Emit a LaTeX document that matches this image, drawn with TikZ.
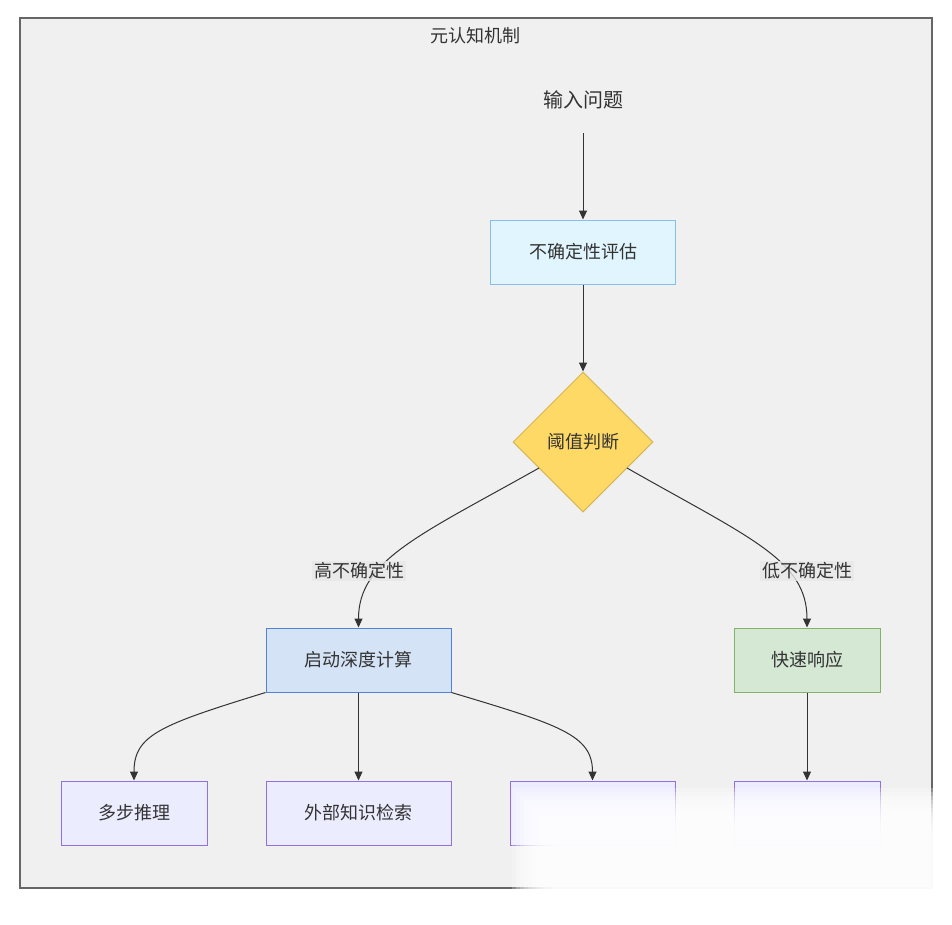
\documentclass[tikz,border=0pt]{standalone}
\usepackage{fontspec}
\setmainfont{Noto Sans CJK SC}
\usetikzlibrary{positioning}
\usetikzlibrary{shapes.geometric}
\usetikzlibrary{arrows.meta}
\definecolor{mframe}{RGB}{240,240,240}
\definecolor{mframeline}{RGB}{102,102,102}
\definecolor{mtext}{RGB}{51,51,51}
\definecolor{mevalfill}{RGB}{225,245,254}
\definecolor{mevalline}{RGB}{135,190,240}
\definecolor{mjudgefill}{RGB}{255,217,102}
\definecolor{mjudgeline}{RGB}{214,182,86}
\definecolor{mdeepfill}{RGB}{212,227,246}
\definecolor{mdeepline}{RGB}{80,130,215}
\definecolor{mfastfill}{RGB}{213,232,212}
\definecolor{mfastline}{RGB}{130,179,102}
\definecolor{mtoolfill}{RGB}{236,236,255}
\definecolor{mtoolline}{RGB}{147,112,219}
\definecolor{mlabel}{RGB}{232,232,232}

\begin{document}
\begin{tikzpicture}[x=1pt, y=-1pt,
    every node/.style={font=\fontsize{18}{20}\selectfont, text=mtext},
    module/.style={draw, line width=1pt, minimum height=64pt, inner sep=0pt},
    evalbox/.style={module, fill=mevalfill, draw=mevalline, minimum width=185pt},
    judgebox/.style={diamond, aspect=1, draw=mjudgeline, line width=1pt, fill=mjudgefill, minimum width=140pt, minimum height=140pt, inner sep=0pt},
    deepbox/.style={module, fill=mdeepfill, draw=mdeepline, minimum width=185pt},
    fastbox/.style={module, fill=mfastfill, draw=mfastline, minimum width=146pt},
    toolbox/.style={module, fill=mtoolfill, draw=mtoolline},
    edgelabel/.style={fill=mlabel, fill opacity=0.8, text opacity=1, inner sep=2pt},
    arrow/.style={-{Triangle[length=9pt, width=8pt]}, line width=1pt, draw=mtext},
]
\useasboundingbox (0,0) rectangle (952,924);
% outer frame
\draw[fill=mframe, draw=mframeline, line width=1.6pt] (20,18) rectangle (932,888);
\node (title) at (475,36) {元认知机制};

\node[minimum height=66pt, font=\fontsize{20}{22}\selectfont] (input) at (583,100) {输入问题};
\node[below of=input, evalbox, node distance=152pt] (eval) {不确定性评估};
\node[below of=eval, judgebox, node distance=190pt] (judge) {阈值判断};
\node[below of=judge, deepbox, node distance=218pt, xshift=-224.5pt] (deep) {启动深度计算};
\node[below of=judge, fastbox, node distance=218pt, xshift=224pt] (fast) {快速响应};
\node[below of=deep, toolbox, node distance=153pt, xshift=-224.5pt, minimum width=146pt] (multistep) {多步推理};
\node[below of=deep, toolbox, node distance=153pt, minimum width=185pt] (retrieve) {外部知识检索};
\node[below of=deep, toolbox, node distance=153pt, xshift=234pt, minimum width=165pt] (third) {};
\node[below of=fast, toolbox, node distance=153pt, minimum width=146pt] (fourth) {};

\coordinate (judge_left) at (539,468);
\coordinate (judge_right) at (627,468);
\draw[arrow] (judge_left) .. controls (420,535) and (deep.north |- 0,560) .. (deep.north);
\draw[arrow] (judge_right) .. controls (750,538) and (fast.north |- 0,560) .. (fast.north);
\node[edgelabel] (high) at (359,571) {高不确定性};
\node[edgelabel] (low) at (807,571) {低不确定性};

\draw[arrow] (input) -- (eval);
\draw[arrow] (eval) -- (judge);
\draw[arrow] (deep.south west) .. controls (160,725) and (multistep.north |- 0,735) .. (multistep.north);
\draw[arrow] (deep) -- (retrieve);
\draw[arrow] (deep.south east) .. controls (560,725) and (third.north |- 0,735) .. (third.north);
\draw[arrow] (fast) -- (fourth);

% washed out lower right corner
\foreach \i in {0,...,11}
  \fill[white, opacity=0.25] (512+4*\i,788+4*\i) rectangle (952,924);
\end{tikzpicture}
\end{document}
